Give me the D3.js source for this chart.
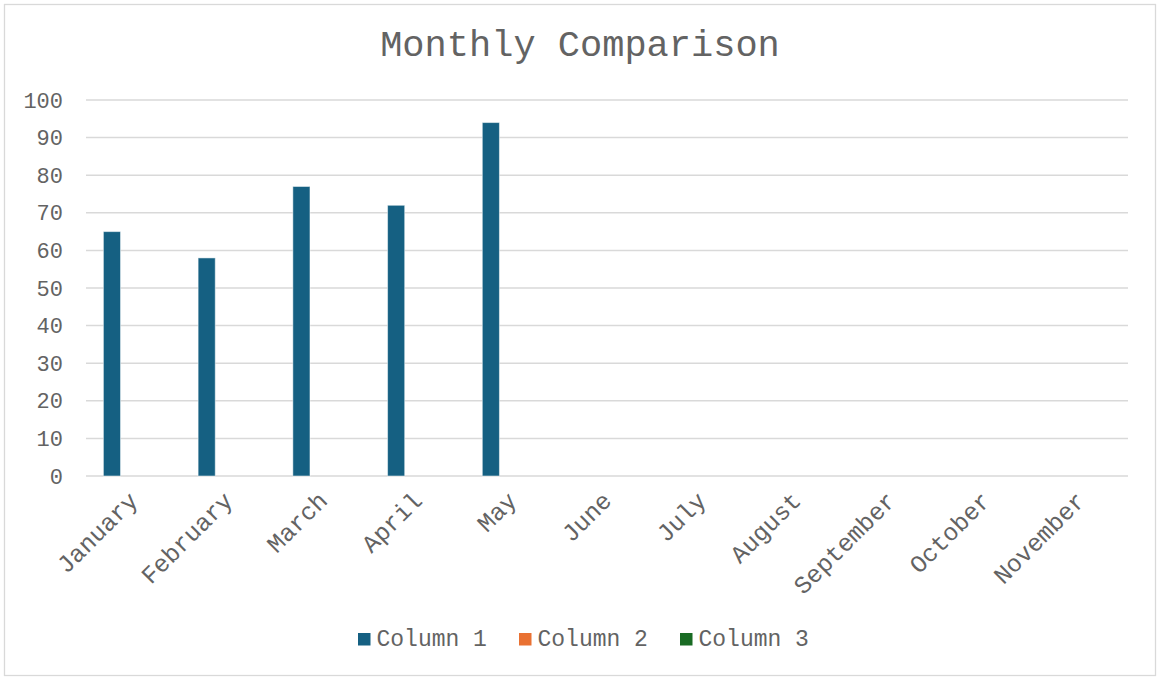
<!DOCTYPE html>
<html>
<head>
<meta charset="utf-8">
<script src="https://cdn.jsdelivr.net/npm/d3@7"></script>
<style>
  body { margin: 0; background: #fff; }
  svg text { font-family: "Liberation Mono", "Courier New", monospace; fill: #636363; }
</style>
</head>
<body>
<div id="chart"></div>
<script>
// data
const months = ["January", "February", "March", "April", "May", "June",
                "July", "August", "September", "October", "November"];
const seriesNames = ["Column 1", "Column 2", "Column 3"];
const seriesColors = ["#156082", "#E97132", "#196B24"];
const column1 = [65, 58, 77, 72, 94, null, null, null, null, null, null];
const column2 = [null, null, null, null, null, null, null, null, null, null, null];
const column3 = [null, null, null, null, null, null, null, null, null, null, null];
const yTicks = [0, 10, 20, 30, 40, 50, 60, 70, 80, 90, 100];

document.addEventListener("DOMContentLoaded", () => {
    const W = 1157, H = 677;
    const plot = { left: 86, right: 1128, top: 100, bottom: 476 };

    const svg = d3.select("#chart")
                  .append("svg")
                  .attr("width", W)
                  .attr("height", H);

    // frame
    svg.append("rect")
       .attr("x", 4.5).attr("y", 4.5)
       .attr("width", W - 6).attr("height", H - 6)
       .attr("fill", "#fff")
       .attr("stroke", "#d9d9d9")
       .attr("stroke-width", 1.3);

    // title
    svg.append("text")
       .attr("x", 580)
       .attr("y", 56)
       .attr("text-anchor", "middle")
       .style("font-size", "37px")
       .text("Monthly Comparison");

    const x0 = d3.scaleBand()
                 .domain(months)
                 .range([plot.left, plot.right])
                 .paddingInner(0.322)
                 .paddingOuter(0.161);

    const x1 = d3.scaleBand()
                 .domain(seriesNames)
                 .range([0, x0.bandwidth()])
                 .paddingInner(0.2)
                 .paddingOuter(0.1);

    const y = d3.scaleLinear()
                .domain([0, 100])
                .range([plot.bottom, plot.top]);

    // gridlines
    svg.append("g")
       .selectAll("line")
       .data(yTicks)
       .join("line")
       .attr("x1", plot.left)
       .attr("x2", plot.right)
       .attr("y1", d => y(d))
       .attr("y2", d => y(d))
       .attr("stroke", "#d9d9d9")
       .attr("stroke-width", 1.5);

    // y axis labels
    const yAxis = svg.append("g")
                     .attr("transform", `translate(${plot.left - 23},0)`)
                     .call(d3.axisLeft(y).tickValues(yTicks).tickSize(0).tickPadding(0));
    yAxis.select(".domain").remove();
    yAxis.selectAll("text")
         .style("font-size", "22px")
         .style("font-family", "Liberation Mono")
         .attr("fill", "#636363");

    // bars
    const allSeries = [column1, column2, column3];
    const groups = svg.append("g")
                      .selectAll("g")
                      .data(months)
                      .join("g")
                      .attr("transform", d => `translate(${x0(d)},0)`);

    groups.selectAll("rect")
          .data((m, i) => seriesNames.map((s, j) => ({ s, v: allSeries[j][i], c: seriesColors[j] })))
          .join("rect")
          .filter(d => d.v != null)
          .attr("x", d => x1(d.s))
          .attr("width", x1.bandwidth())
          .attr("y", d => y(d.v))
          .attr("height", d => y(0) - y(d.v))
          .attr("fill", d => d.c)
          .attr("stroke", "#ffffff")
          .attr("stroke-opacity", 0.5)
          .attr("stroke-width", 1);

    // x axis labels
    const xAxis = svg.append("g")
                     .attr("transform", `translate(0,${plot.bottom})`)
                     .call(d3.axisBottom(x0).tickSize(0).tickPadding(0));
    xAxis.select(".domain").remove();
    xAxis.selectAll("text")
         .style("font-size", "24.5px")
         .style("font-family", "Liberation Mono")
         .attr("fill", "#636363")
         .attr("text-anchor", "end")
         .attr("dy", "0")
         .attr("y", 0)
         .attr("transform", "translate(6,26) rotate(-45)");

    // legend
    const legend = svg.append("g")
                      .selectAll("g")
                      .data(seriesNames)
                      .join("g")
                      .attr("transform", (d, i) => `translate(${358 + i * 161},633)`);

    legend.append("rect")
          .attr("width", 12.5)
          .attr("height", 12.5)
          .attr("fill", (d, i) => seriesColors[i]);

    legend.append("text")
          .attr("x", 18.5)
          .attr("y", 13)
          .style("font-size", "23px")
          .text(d => d);
});
</script>
</body>
</html>
